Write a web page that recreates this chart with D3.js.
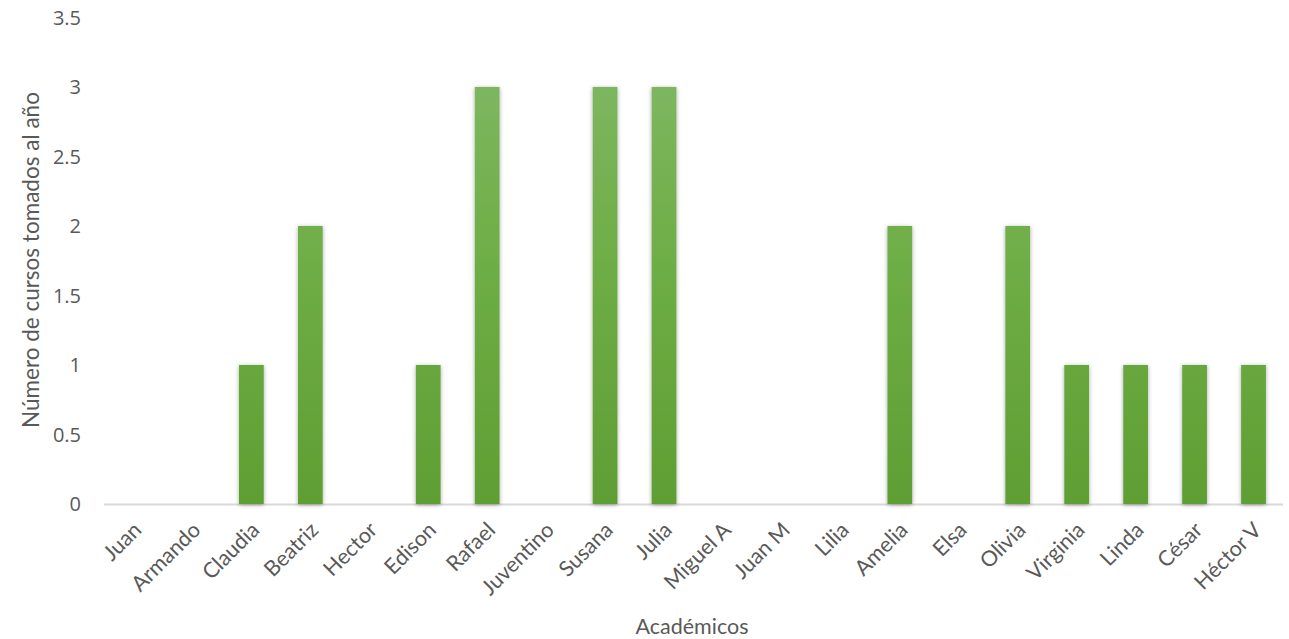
<!DOCTYPE html>
<html><head><meta charset="utf-8">
<script src="https://cdn.jsdelivr.net/npm/d3@7"></script>
<style>body{margin:0;background:#fff}svg{display:block}</style>
</head><body>
<svg id="c" width="1289" height="639"></svg>
<script>
const categories = ["Juan","Armando","Claudia","Beatriz","Hector","Edison","Rafael","Juventino","Susana","Julia","Miguel A","Juan M","Lilia","Amelia","Elsa","Olivia","Virginia","Linda","César","Héctor V"];
const values = [0,0,1,2,0,1,3,0,3,3,0,0,0,2,0,2,1,1,1,1];
const yTicks = [0,0.5,1,1.5,2,2.5,3,3.5];
const yTitle = "Número de cursos tomados al año";
const xTitle = "Académicos";

const svg = d3.select("#c");
const x = d3.scaleBand().domain(categories).range([104,1283]).paddingInner(0.58).paddingOuter(0.29);
const y = d3.scaleLinear().domain([0,3.5]).range([504,17.5]);
const txt = "#595959";

const defs = svg.append("defs");
const g = defs.append("linearGradient").attr("id","bg").attr("x1",0).attr("x2",0).attr("gradientUnits","userSpaceOnUse")
  .attr("y1", y(3)).attr("y2", y(0));
g.append("stop").attr("offset","0%").attr("stop-color","#7db65f");
g.append("stop").attr("offset","45%").attr("stop-color","#6dad44");
g.append("stop").attr("offset","100%").attr("stop-color","#5f9e33");
const f = defs.append("filter").attr("id","sh").attr("x","-50%").attr("y","-10%").attr("width","200%").attr("height","120%");
f.append("feDropShadow").attr("dx",0).attr("dy",1).attr("stdDeviation",2.2).attr("flood-color","#000").attr("flood-opacity",0.35);

// y tick labels
svg.append("g").selectAll("text").data(yTicks).join("text")
  .attr("x",81).attr("y",d=>y(d)).attr("dy","0.35em").attr("text-anchor","end")
  .attr("font-family","Open Sans, sans-serif").attr("font-size",20).attr("fill",txt)
  .text(d=>d3.format("")(d));

// axis line
svg.append("line").attr("x1",104).attr("x2",1283).attr("y1",y(0)+0.5).attr("y2",y(0)+0.5)
  .attr("stroke","#d9d9d9").attr("stroke-width",2);

// bars
svg.append("g").selectAll("rect").data(categories.map((c,i)=>({c,v:values[i]})).filter(d=>d.v>0)).join("rect")
  .attr("x",d=>x(d.c)).attr("width",x.bandwidth())
  .attr("y",d=>y(d.v)).attr("height",d=>y(0)-y(d.v))
  .attr("fill","url(#bg)").attr("filter","url(#sh)");

// x labels
svg.append("g").selectAll("text").data(categories).join("text")
  .attr("transform",d=>`translate(${x(d)+x.bandwidth()/2+4},${y(0)+22}) rotate(-45)`)
  .attr("text-anchor","end").attr("dy","0.35em")
  .attr("font-family","Lato, sans-serif").attr("font-size",21.5).attr("fill",txt)
  .text(d=>d);

// titles
svg.append("text").attr("transform",`translate(39,260) rotate(-90)`).attr("text-anchor","middle")
  .attr("font-family","Lato, sans-serif").attr("font-size",22.5).attr("fill",txt).text(yTitle);
svg.append("text").attr("x",692).attr("y",634).attr("text-anchor","middle")
  .attr("font-family","Lato, sans-serif").attr("font-size",21.5).attr("fill",txt).text(xTitle);
</script>
</body></html>
